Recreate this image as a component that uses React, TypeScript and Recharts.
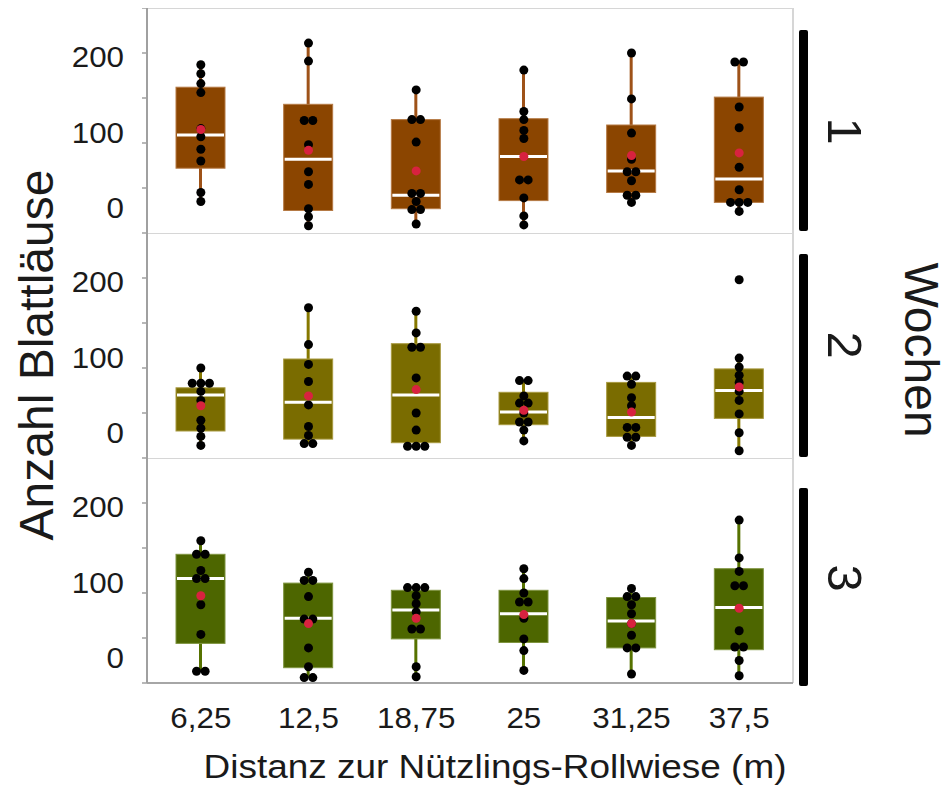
import React from "react";
import { ComposedChart, Bar, Scatter, XAxis, YAxis, ReferenceLine } from "recharts";

// ---------- data ----------
const distances = ["6,25", "12,5", "18,75", "25", "31,25", "37,5"];
const weeks = ["1", "2", "3"];
const yTicks = [0, 50, 100, 150, 200, 250];

// Week 1
const w1Q1 = [72, 25, 27, 36, 45, 34];
const w1Med = [109, 82, 42, 85, 69, 60];
const w1Q3 = [162, 143, 126, 127, 120, 151];
const w1Lo = [35, 8, 10, 9, 34, 24];
const w1Hi = [187, 211, 159, 181, 200, 190];
const w1Mean = [115, 92, 69, 85, 86, 89];
const w1Points = [
  [187, 177, 166, 156, 116, 107, 93, 80, 45, 35],
  [211, 191, 125, 125, 98, 68, 54, 27, 18, 8],
  [159, 126, 126, 101, 44, 44, 35, 26, 26, 10],
  [181, 135, 126, 114, 105, 59, 59, 39, 19, 9],
  [200, 149, 111, 82, 68, 68, 58, 42, 42, 34],
  [190, 190, 140, 117, 73, 48, 34, 34, 34, 24],
];

// Week 2
const w2Q1 = [30, 21, 17, 37, 24, 44];
const w2Med = [70, 62, 70, 51, 45, 75];
const w2Q3 = [78, 110, 127, 73, 84, 99];
const w2Lo = [14, 16, 13, 19, 14, 8];
const w2Hi = [100, 167, 163, 86, 91, 111];
const w2Mean = [58, 69, 76, 53, 51, 79];
const w2Points = [
  [100, 83, 83, 83, 74, 64, 42, 33, 24, 14],
  [167, 126, 104, 85, 59, 35, 25, 16, 16],
  [163, 139, 123, 123, 89, 50, 31, 13, 13, 13],
  [86, 86, 69, 61, 61, 50, 40, 40, 31, 19],
  [91, 91, 82, 67, 58, 34, 34, 23, 23, 14],
  [198, 111, 101, 92, 84, 74, 64, 49, 28, 8],
];

// Week 3
const w3Q1 = [44, 17, 49, 45, 39, 37];
const w3Med = [116, 72, 81, 77, 69, 84];
const w3Q3 = [143, 111, 103, 103, 95, 127];
const w3Lo = [13, 6, 7, 14, 10, 8];
const w3Hi = [158, 123, 106, 127, 105, 181];
const w3Mean = [97, 66, 72, 76, 66, 83];
const w3Points = [
  [158, 143, 143, 125, 116, 116, 87, 54, 13, 13],
  [123, 114, 114, 96, 71, 71, 39, 18, 6, 6],
  [106, 106, 106, 97, 88, 79, 60, 60, 18, 7],
  [127, 116, 100, 90, 90, 72, 49, 36, 14],
  [105, 96, 96, 87, 77, 66, 53, 39, 39, 10],
  [181, 139, 124, 108, 108, 58, 40, 40, 25, 8],
];

// ---------- layout / style ----------
const FONT = "'Liberation Sans', Arial, Helvetica, sans-serif";
const W = 947;
const H = 787;
const PLOT_LEFT = 147;
const PLOT_RIGHT = 793;
const PANEL_H = 225;
const PANEL_TOPS = [8, 233, 458];
const Y_AXIS_W = 60;
const X_AXIS_H = 70;
const DODGE = 0.08;
const TICK_FONT = 29;
const TEXT_STRETCH = 1.08;
const LABEL_SHIFT: Record<number, number> = { 0: -25, 100: -10.5, 200: 3.5 };

const panels = [
  { q1: w1Q1, med: w1Med, q3: w1Q3, lo: w1Lo, hi: w1Hi, mean: w1Mean, pts: w1Points, fill: "#8B4500", edge: "#B57A45", whisker: "#9E5218" },
  { q1: w2Q1, med: w2Med, q3: w2Q3, lo: w2Lo, hi: w2Hi, mean: w2Mean, pts: w2Points, fill: "#7A6C00", edge: "#A89A40", whisker: "#867800" },
  { q1: w3Q1, med: w3Med, q3: w3Q3, lo: w3Lo, hi: w3Hi, mean: w3Mean, pts: w3Points, fill: "#4D6600", edge: "#7F9440", whisker: "#567200" },
];

function swarm(values: number[], idx: number) {
  const counts = new Map<number, number>();
  values.forEach((v) => counts.set(v, (counts.get(v) || 0) + 1));
  const seen = new Map<number, number>();
  return values.map((v) => {
    const n = counts.get(v) || 1;
    const k = seen.get(v) || 0;
    seen.set(v, k + 1);
    return { x: idx + 1 + (k - (n - 1) / 2) * DODGE, y: v };
  });
}

function makeBoxShape(fill: string, edge: string, whisker: string) {
  return (props: any) => {
    const { x, y, width, height, payload } = props;
    if (payload == null || width == null) return <g />;
    const top = Math.min(y, y + height);
    const bottom = Math.max(y, y + height);
    const k = (bottom - top) / (payload.hi - payload.lo);
    const yOf = (v: number) => bottom - (v - payload.lo) * k;
    const cx = x + width / 2;
    return (
      <g>
        <line x1={cx} x2={cx} y1={yOf(payload.hi)} y2={yOf(payload.lo)} stroke={whisker} strokeWidth={3} />
        <rect x={x} y={yOf(payload.q3)} width={width} height={yOf(payload.q1) - yOf(payload.q3)} fill={fill} stroke={edge} strokeWidth={1} />
        <line x1={x + 1} x2={x + width - 1} y1={yOf(payload.med)} y2={yOf(payload.med)} stroke="#FFFFFF" strokeWidth={3} />
      </g>
    );
  };
}

const PointDot = (props: any) => <circle cx={props.cx} cy={props.cy} r={4.5} fill="#000000" />;
const MeanDot = (props: any) => <circle cx={props.cx} cy={props.cy} r={4.5} fill="#D8223F" />;

const YTick = (props: any) => {
  const { x, y, payload } = props;
  const v = payload.value;
  if (!(v in LABEL_SHIFT)) return <g />;
  return (
    <text
      transform={`translate(${x},${y + LABEL_SHIFT[v]}) scale(${TEXT_STRETCH},1)`}
      x={0}
      y={0}
      textAnchor="end"
      dominantBaseline="central"
      fontSize={TICK_FONT}
      fontFamily={FONT}
      fill="#1a1a1a"
    >
      {v}
    </text>
  );
};

const XTick = (props: any) => {
  const { x, y, payload } = props;
  return (
    <text
      transform={`translate(${x},${y + 45}) scale(${TEXT_STRETCH},1)`}
      x={0}
      y={0}
      textAnchor="middle"
      fontSize={TICK_FONT}
      fontFamily={FONT}
      fill="#1a1a1a"
    >
      {payload.value}
    </text>
  );
};

function Panel({ p, index }: { p: typeof panels[number]; index: number }) {
  const isLast = index === panels.length - 1;
  const boxData = distances.map((d, i) => ({
    dist: d,
    q1: p.q1[i],
    med: p.med[i],
    q3: p.q3[i],
    lo: p.lo[i],
    hi: p.hi[i],
  }));
  const pointData = p.pts.flatMap((vals, i) => swarm(vals, i));
  const meanData = p.mean.map((m, i) => ({ x: i + 1, y: m }));
  const height = PANEL_H + (isLast ? X_AXIS_H : 0);
  return (
    <div style={{ position: "absolute", left: 0, top: PANEL_TOPS[index] }}>
      <ComposedChart
        width={W}
        height={height}
        data={boxData}
        margin={{ top: 0, right: W - PLOT_RIGHT, bottom: 0, left: PLOT_LEFT - Y_AXIS_W }}
      >
        <XAxis
          xAxisId="cat"
          dataKey="dist"
          type="category"
          hide={!isLast}
          height={X_AXIS_H}
          axisLine={{ stroke: "#A6A6A6", strokeWidth: 2 }}
          tickLine={false}
          tickSize={0}
          tickMargin={0}
          tick={<XTick />}
          interval={0}
        />
        <XAxis xAxisId="num" dataKey="x" type="number" domain={[0.5, 6.5]} hide allowDataOverflow />
        <YAxis
          domain={[0, 250]}
          ticks={yTicks}
          width={Y_AXIS_W}
          axisLine={{ stroke: "#A0A0A0", strokeWidth: 2 }}
          tickLine={{ stroke: "#A0A0A0", strokeWidth: 1.5 }}
          tickSize={5}
          tickMargin={18}
          tick={<YTick />}
          interval={0}
          allowDataOverflow
        />
        <ReferenceLine y={250} stroke="#D6D6D6" strokeWidth={2} />
        <ReferenceLine xAxisId="num" x={6.5} stroke="#D6D6D6" strokeWidth={2} />
        <Bar
          xAxisId="cat"
          dataKey={(d: any) => [d.lo, d.hi]}
          barSize={49}
          shape={makeBoxShape(p.fill, p.edge, p.whisker)}
          isAnimationActive={false}
        />
        <Scatter xAxisId="num" data={pointData} dataKey="y" shape={PointDot} isAnimationActive={false} />
        <Scatter xAxisId="num" data={meanData} dataKey="y" shape={MeanDot} isAnimationActive={false} />
      </ComposedChart>
    </div>
  );
}

const STRIP_BARS = [
  [30, 231],
  [254, 457],
  [488, 686],
];
const STRIP_LABEL_Y = [131, 345, 578];

export default function App() {
  return (
    <div style={{ position: "absolute", left: 0, top: 0, width: W, height: H, background: "#FFFFFF", fontFamily: FONT }}>
      {panels.map((p, i) => (
        <Panel key={i} p={p} index={i} />
      ))}
      <svg width={W} height={H} style={{ position: "absolute", left: 0, top: 0, pointerEvents: "none" }}>
        <text
          transform="translate(36,355) rotate(-90)"
          textAnchor="middle"
          dominantBaseline="central"
          fontSize={48}
          fontFamily={FONT}
          fill="#1a1a1a"
        >
          Anzahl Blattläuse
        </text>
        <text
          transform={`translate(495,778) scale(1.12,1)`}
          x={0}
          y={0}
          textAnchor="middle"
          fontSize={33}
          fontFamily={FONT}
          fill="#1a1a1a"
        >
          Distanz zur Nützlings-Rollwiese (m)
        </text>
        {weeks.map((w, i) => (
          <g key={w}>
            <rect x={799} y={STRIP_BARS[i][0]} width={9} height={STRIP_BARS[i][1] - STRIP_BARS[i][0]} rx={2} fill="#000000" />
            <text
              transform={`translate(845,${STRIP_LABEL_Y[i]}) rotate(90)`}
              textAnchor="middle"
              dominantBaseline="central"
              fontSize={49}
              fontFamily={FONT}
              fill="#1a1a1a"
            >
              {w}
            </text>
          </g>
        ))}
        <text
          transform="translate(921,350) rotate(90)"
          textAnchor="middle"
          dominantBaseline="central"
          fontSize={48}
          fontFamily={FONT}
          fill="#1a1a1a"
        >
          Wochen
        </text>
      </svg>
    </div>
  );
}
